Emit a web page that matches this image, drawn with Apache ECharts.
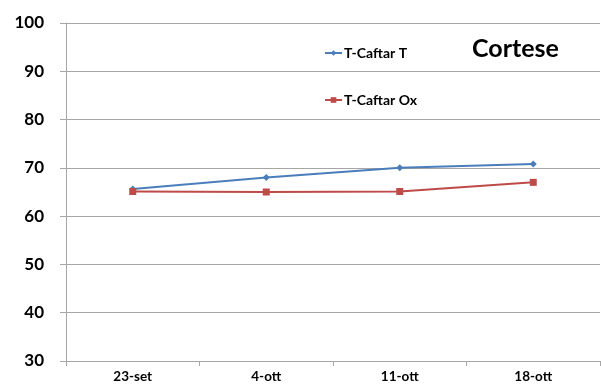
<!DOCTYPE html>
<html><head><meta charset="utf-8">
<script src="https://cdn.jsdelivr.net/npm/echarts@6/dist/echarts.min.js"></script>
<style>html,body{margin:0;padding:0;background:#fff}#c{width:601px;height:390px}</style>
</head><body><div id="c"></div>
<script>
const categories = ['23-set', '4-ott', '11-ott', '18-ott'];
const seriesT = [65.6, 68.0, 70.0, 70.8];
const seriesOx = [65.1, 65.0, 65.1, 67.0];
const nameT = 'T-Caftar T';
const nameOx = 'T-Caftar Ox';
const titleText = 'Cortese';
const FONT = 'Lato';
const chart = echarts.init(document.getElementById('c'));
chart.setOption({
  animation: false,
  title: { text: titleText, left: 467, top: 31, textStyle: { fontFamily: FONT, fontWeight: 'bold', fontSize: 25, color: '#000' } },
  legend: [
    { data: [nameT], left: 324, top: 46, padding: 0, itemWidth: 17, itemHeight: 7, itemGap: 2,
      textStyle: { fontFamily: FONT, fontWeight: 'bold', fontSize: 14, color: '#000', padding: [0, 0, 0, -3] } },
    { data: [nameOx], left: 324, top: 93, padding: 0, itemWidth: 17, itemHeight: 7, itemGap: 2,
      textStyle: { fontFamily: FONT, fontWeight: 'bold', fontSize: 14, color: '#000', padding: [0, 0, 0, -3] } }
  ],
  grid: { left: 66, right: 1, top: 23, bottom: 29 },
  xAxis: {
    type: 'category', data: categories, boundaryGap: true,
    axisLine: { show: true, lineStyle: { color: '#a6a6a6' } },
    axisTick: { show: true, length: 5, lineStyle: { color: '#a6a6a6' } },
    axisLabel: { fontFamily: FONT, fontWeight: 'bold', fontSize: 13.5, color: '#000', margin: 9 }
  },
  yAxis: {
    type: 'value', min: 30, max: 100, interval: 10,
    axisLine: { show: true, lineStyle: { color: '#a6a6a6' } },
    axisTick: { show: true, length: 6, lineStyle: { color: '#a6a6a6' } },
    splitLine: { lineStyle: { color: '#a6a6a6' } },
    axisLabel: { fontFamily: FONT, fontWeight: 'bold', fontSize: 17, color: '#000', margin: 22 }
  },
  series: [
    { name: nameT, type: 'line', data: seriesT, symbol: 'diamond', symbolSize: 7,
      itemStyle: { color: '#4A7EBB' }, lineStyle: { color: '#4A7EBB', width: 2 } },
    { name: nameOx, type: 'line', data: seriesOx, symbol: 'rect', symbolSize: 7,
      itemStyle: { color: '#BE4B48' }, lineStyle: { color: '#BE4B48', width: 2 } }
  ]
});
</script></body></html>
